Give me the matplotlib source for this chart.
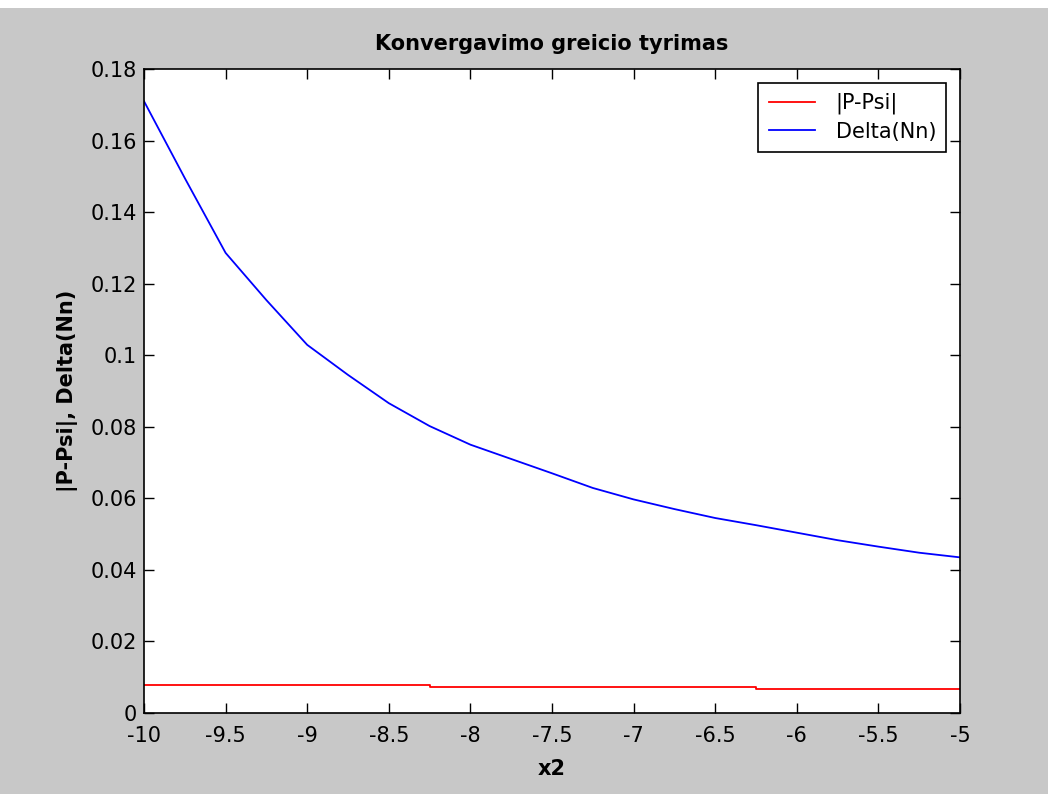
import matplotlib
matplotlib.use("Agg")
import matplotlib.pyplot as plt
from matplotlib.patches import Rectangle

# Data
x_delta = [-10.0, -9.75, -9.5, -9.25, -9.0, -8.75, -8.5, -8.25, -8.0, -7.75,
           -7.5, -7.25, -7.0, -6.75, -6.5, -6.25, -6.0, -5.75, -5.5, -5.25, -5.0]
delta_nn = [0.1710, 0.1495, 0.1286, 0.1154, 0.1029, 0.0945, 0.0866, 0.0802, 0.0750, 0.0710,
            0.0670, 0.0629, 0.0597, 0.0570, 0.0545, 0.0525, 0.0504, 0.0483, 0.0465, 0.0448, 0.0435]

x_psi = [-10.0, -8.25, -6.25, -5.0]
p_psi = [0.0078, 0.0073, 0.0068, 0.0068]

xticks = [-10, -9.5, -9, -8.5, -8, -7.5, -7, -6.5, -6, -5.5, -5]
xticklabels = ["-10", "-9.5", "-9", "-8.5", "-8", "-7.5", "-7", "-6.5", "-6", "-5.5", "-5"]
yticks = [0, 0.02, 0.04, 0.06, 0.08, 0.1, 0.12, 0.14, 0.16, 0.18]
yticklabels = ["0", "0.02", "0.04", "0.06", "0.08", "0.1", "0.12", "0.14", "0.16", "0.18"]

plt.rcParams['font.family'] = ['DejaVu Sans']

bg = '#c8c8c8'
fig = plt.figure(figsize=(10.48, 7.94), dpi=100, facecolor=bg)
fig.patches.append(Rectangle((0, 1 - 8 / 794), 1, 8 / 794, transform=fig.transFigure,
                             facecolor='white', edgecolor='none', zorder=-1))
ax = fig.add_axes([144 / 1048, 1 - 713 / 794, (960 - 144) / 1048, (713 - 69) / 794])
ax.set_facecolor('white')

ax.step(x_psi, p_psi, where='post', color='#ff0000', lw=1.3, label='|P-Psi|')
ax.plot(x_delta, delta_nn, color='#0000ff', lw=1.3, label='Delta(Nn)')

ax.set_xlim(-10, -5)
ax.set_ylim(0, 0.18)
ax.set_xticks(xticks)
ax.set_xticklabels(xticklabels)
ax.set_yticks(yticks)
ax.set_yticklabels(yticklabels)
ax.tick_params(direction='in', length=7, width=1, top=True, right=True,
               labelsize=15, pad=5, colors='black')
ax.tick_params(axis='x', pad=9)
for s in ax.spines.values():
    s.set_linewidth(1.2)
    s.set_color('black')

ax.set_title('Konvergavimo greicio tyrimas', fontsize=15, fontweight='bold', pad=14)
ax.set_xlabel('x2', fontsize=15, fontweight='bold', labelpad=10)
ax.set_ylabel('|P-Psi|, Delta(Nn)', fontsize=15, fontweight='bold', labelpad=9)

leg = ax.legend(loc='upper right', fontsize=15, frameon=True, fancybox=False,
                edgecolor='black', framealpha=1, borderpad=0.5, handlelength=2.2,
                handletextpad=1.0, borderaxespad=0.65, labelspacing=0.35)
leg.get_frame().set_linewidth(1.2)

fig.savefig('out.png', dpi=100, facecolor=bg)
